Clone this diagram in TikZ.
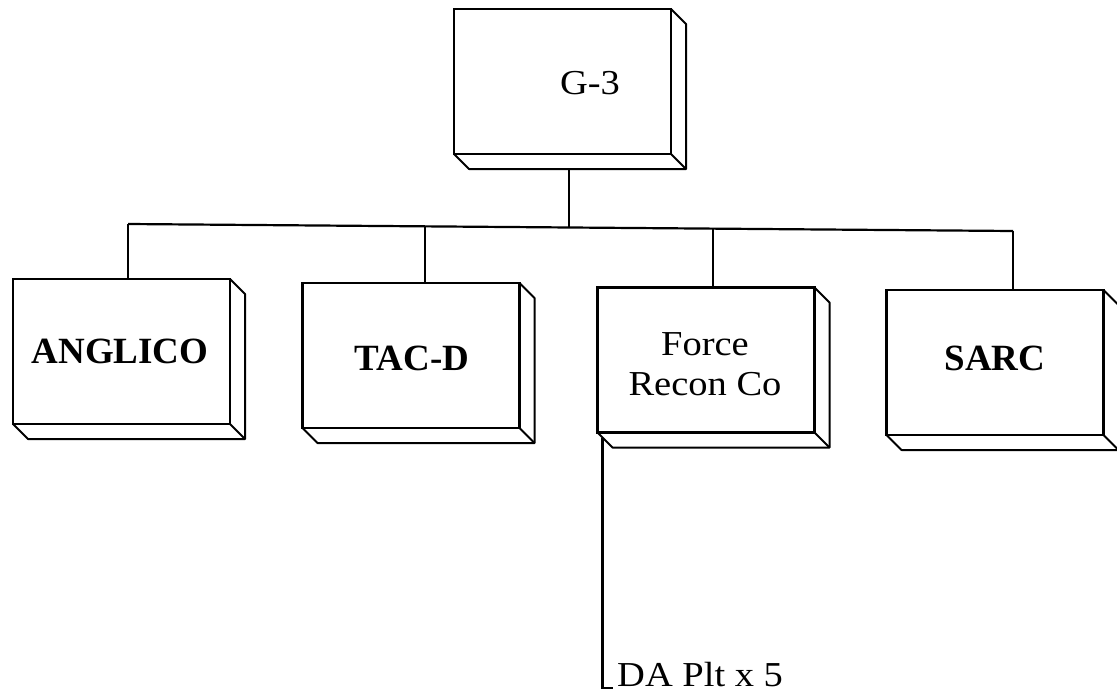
\documentclass[tikz,border=0pt]{standalone}
\usepackage{fontspec}
\setmainfont{Liberation Serif}
\newcommand\xwide[1]{\scalebox{1.1}[1]{#1}}
\newcommand\boxdepth[1]{%
  \draw[side] (#1.north east) -- ++(15,15) -- ++(0,145) -- ++(-217,0) -- (#1.south west);
  \draw[side] (#1.south east) -- ++(15,15);}
\begin{document}
\begin{tikzpicture}[x=1pt,y=-1pt,
  box/.style={draw, line width=2.6pt, minimum width=217pt, minimum height=145pt, inner sep=0pt, outer sep=0pt},
  side/.style={line width=2pt, line join=round},
  boldtxt/.style={font=\fontsize{37}{40}\selectfont\bfseries, inner sep=0pt},
  regtxt/.style={font=\fontsize{35}{40}\selectfont, inner sep=0pt, align=center},
  conn/.style={line width=2.2pt}]
\useasboundingbox (0,0) rectangle (1117,693);

% boxes
\node[box] (g3) at (562.5,81.5) {};
\node[box] (ang) at (121.5,351.5) {};
\node[box] (tac) at (411,355.5) {};
\node[box] (frc) at (706,360) {};
\node[box] (sarc) at (995,362.5) {};
\boxdepth{g3}
\boxdepth{ang}
\boxdepth{tac}
\boxdepth{frc}
\boxdepth{sarc}

% texts
\node[regtxt, anchor=base] (g3t) at (590,95) {\xwide{G-3}};
\node[boldtxt, anchor=base] (angt) at (120,363) {ANGLICO};
\node[boldtxt, anchor=base] (tact) at (412,370) {TAC-D};
\node[regtxt] (frct) at (705,364) {\xwide{Force}\\\xwide{Recon Co}};
\node[boldtxt, anchor=base] (sarct) at (995,370) {SARC};
\node[regtxt, anchor=base west] (da) at (617,686) {\xwide{DA Plt x 5}};

% bus
\coordinate (jg) at (569,227.5);
\coordinate (j1) at (128,224);
\coordinate (j2) at (425,226.3);
\coordinate (j3) at (713,228.6);
\coordinate (j4) at (1013,231);
\draw[conn] (j1) -- (j4);
\draw[conn] ([xshift=6.5pt,yshift=-15pt]g3.south) -- (jg);
\draw[conn] (j1) -- (j1 |- ang.north);
\draw[conn] (j2) -- (j2 |- tac.north);
\draw[conn] (j3) -- (j3 |- frc.north);
\draw[conn] (j4) -- (j4 |- sarc.north);

% DA Plt
\draw[conn] ([xshift=5pt,yshift=-5pt]frc.south west) |- ([xshift=-4pt,yshift=-2pt]da.base west);
\end{tikzpicture}
\end{document}
